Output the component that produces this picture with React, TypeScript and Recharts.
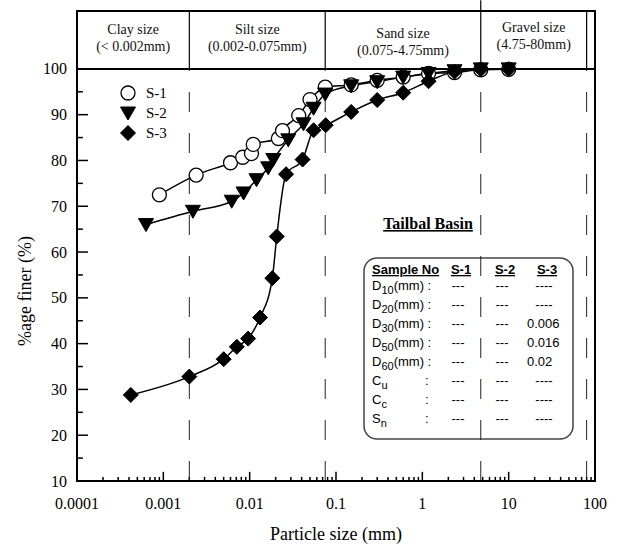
import React from 'react';
import { LineChart, Line, XAxis, YAxis, ReferenceLine, ReferenceArea, Legend } from 'recharts';

// grain size distribution points (size in mm, % finer)
const s1 = [
    { x: 0.0009, y: 72.5 },
    { x: 0.0024, y: 76.8 },
    { x: 0.006, y: 79.5 },
    { x: 0.0083, y: 80.7 },
    { x: 0.0105, y: 81.5 },
    { x: 0.011, y: 83.5 },
    { x: 0.0215, y: 84.8 },
    { x: 0.024, y: 86.5 },
    { x: 0.037, y: 89.8 },
    { x: 0.05, y: 93.3 },
    { x: 0.075, y: 96.0 },
    { x: 0.15, y: 96.5 },
    { x: 0.3, y: 97.5 },
    { x: 0.6, y: 98.2 },
    { x: 1.18, y: 99.0 },
    { x: 2.36, y: 99.2 },
    { x: 4.75, y: 99.8 },
    { x: 10, y: 99.9 },
];

const s2 = [
    { x: 0.00063, y: 66.0 },
    { x: 0.0022, y: 68.9 },
    { x: 0.0062, y: 71.1 },
    { x: 0.0085, y: 72.9 },
    { x: 0.012, y: 75.8 },
    { x: 0.0164, y: 78.4 },
    { x: 0.0188, y: 80.2 },
    { x: 0.028, y: 84.5 },
    { x: 0.042, y: 88.0 },
    { x: 0.055, y: 91.4 },
    { x: 0.075, y: 94.5 },
    { x: 0.15, y: 96.3 },
    { x: 0.3, y: 97.2 },
    { x: 0.6, y: 98.2 },
    { x: 1.18, y: 99.0 },
    { x: 2.36, y: 99.6 },
    { x: 4.75, y: 100 },
    { x: 10, y: 100 },
];

const s3 = [
    { x: 0.00042, y: 28.8 },
    { x: 0.002, y: 32.8 },
    { x: 0.005, y: 36.6 },
    { x: 0.0071, y: 39.3 },
    { x: 0.0096, y: 41.1 },
    { x: 0.0132, y: 45.7 },
    { x: 0.0183, y: 54.3 },
    { x: 0.0206, y: 63.4 },
    { x: 0.0264, y: 77.0 },
    { x: 0.041, y: 80.2 },
    { x: 0.055, y: 86.6 },
    { x: 0.076, y: 87.7 },
    { x: 0.15, y: 90.6 },
    { x: 0.3, y: 93.2 },
    { x: 0.6, y: 94.8 },
    { x: 1.18, y: 97.3 },
    { x: 2.36, y: 99.4 },
    { x: 4.75, y: 99.9 },
    { x: 10, y: 99.9 },
];

const xMajor = [0.0001, 0.001, 0.01, 0.1, 1, 10, 100];
const xLabels = ['0.0001', '0.001', '0.01', '0.1', '1', '10', '100'];
const xMinorSteps = [2, 3, 4, 5, 6, 7, 8, 9];
const xMinor = xMajor.slice(0, -1).flatMap((d) => xMinorSteps.map((m) => d * m));

const yMajor = [10, 20, 30, 40, 50, 60, 70, 80, 90, 100];
const yMinor = [15, 25, 35, 45, 55, 65, 75, 85, 95];

const HEADER_TOP = 112.64;

// soil classes shown in the band above the plot
const zones = [
    { from: 0.0001, to: 0.002, name: 'Clay size', range: '(< 0.002mm)', dy: -2 },
    { from: 0.002, to: 0.075, name: 'Silt size', range: '(0.002-0.075mm)', dy: -2 },
    { from: 0.075, to: 4.75, name: 'Sand size', range: '(0.075-4.75mm)', dy: 2 },
    { from: 4.75, to: 80, name: 'Gravel size', range: '(4.75-80mm)', dy: -4 },
];
const boundaries = [0.002, 0.075, 4.75, 80];

const tableHead = ['S-1', 'S-2', 'S-3'];
const tableRows = [
    { sym: 'D', sub: '10', unit: '(mm) :', s1: '---', s2: '---', s3: '----' },
    { sym: 'D', sub: '20', unit: '(mm) :', s1: '---', s2: '---', s3: '----' },
    { sym: 'D', sub: '30', unit: '(mm) :', s1: '---', s2: '---', s3: '0.006' },
    { sym: 'D', sub: '50', unit: '(mm) :', s1: '---', s2: '---', s3: '0.016' },
    { sym: 'D', sub: '60', unit: '(mm) :', s1: '---', s2: '---', s3: '0.02' },
    { sym: 'C', sub: 'u', unit: '', s1: '---', s2: '---', s3: '----' },
    { sym: 'C', sub: 'c', unit: '', s1: '---', s2: '---', s3: '----' },
    { sym: 'S', sub: 'n', unit: '', s1: '---', s2: '---', s3: '----' },
];

const SERIF = '"Liberation Serif", "Times New Roman", serif';
const SANS = '"Liberation Sans", Arial, sans-serif';

const Marker = ({ shape, cx, cy }: { shape: string; cx: number; cy: number }) => {
    if (shape === 'circle') {
        return <circle cx={cx} cy={cy} r={7} fill="#fff" stroke="#000" strokeWidth={1.3} />;
    }
    if (shape === 'triangle') {
        return (
            <polygon
                points={`${cx - 7.5},${cy - 6} ${cx + 7.5},${cy - 6} ${cx},${cy + 7}`}
                fill="#000"
                stroke="#000"
            />
        );
    }
    return (
        <polygon
            points={`${cx},${cy - 7.5} ${cx + 7.5},${cy} ${cx},${cy + 7.5} ${cx - 7.5},${cy}`}
            fill="#000"
            stroke="#000"
        />
    );
};

const series = [
    { name: 'S-1', data: s1, shape: 'circle' },
    { name: 'S-2', data: s2, shape: 'triangle' },
    { name: 'S-3', data: s3, shape: 'diamond' },
];

const XLabel = (props: any) => {
    const { x, y, payload } = props;
    const idx = xMajor.indexOf(payload.value);
    return (
        <text x={x} y={y + 28} textAnchor="middle" fontFamily={SERIF} fontSize={16} fill="#000">
            {xLabels[idx]}
        </text>
    );
};

const YLabel = (props: any) => {
    const { x, y, payload } = props;
    return (
        <text x={x - 10} y={y + 5.5} textAnchor="end" fontFamily={SERIF} fontSize={16} fill="#000">
            {payload.value}
        </text>
    );
};

const ZoneLabel = (props: any) => {
    const { viewBox, name, range, dy } = props;
    const cx = viewBox.x + viewBox.width / 2;
    const cy = viewBox.y + viewBox.height / 2 + dy;
    return (
        <text textAnchor="middle" fontFamily={SERIF} fontSize={14} fill="#111">
            <tspan x={cx} y={cy - 4}>{name}</tspan>
            <tspan x={cx} y={cy + 13}>{range}</tspan>
        </text>
    );
};

const renderLegend = () => (
    <div style={{ display: 'flex', flexDirection: 'column' }}>
        {series.map((s) => (
            <div key={s.name} style={{ height: 20, display: 'flex', alignItems: 'center' }}>
                <svg width={20} height={20}>
                    <Marker shape={s.shape} cx={10} cy={10} />
                </svg>
                <span style={{ marginLeft: 8, fontFamily: SERIF, fontSize: 15, color: '#000' }}>{s.name}</span>
            </div>
        ))}
    </div>
);

const SummaryTable = () => {
    const cols = [458, 502];
    return (
        <g fontFamily={SANS} fontSize={13} fill="#000">
            <rect x={364} y={258} width={209} height={181} rx={13} fill="#fff" stroke="#444" strokeWidth={1.5} />
            <text x={372} y={274} fontWeight="bold" textDecoration="underline">Sample No</text>
            <text x={461} y={274} fontWeight="bold" textDecoration="underline" textAnchor="middle">{tableHead[0]}</text>
            <text x={505} y={274} fontWeight="bold" textDecoration="underline" textAnchor="middle">{tableHead[1]}</text>
            <text x={547} y={274} fontWeight="bold" textDecoration="underline" textAnchor="middle">{tableHead[2]}</text>
            {tableRows.map((r, i) => {
                const y = 290 + i * 19;
                const dashed = r.s3.startsWith('-');
                return (
                    <g key={i}>
                        <text x={372} y={y}>
                            {r.sym}
                            <tspan fontSize={11} dy={4}>{r.sub}</tspan>
                            <tspan dy={-4}>{r.unit}</tspan>
                        </text>
                        {r.unit === '' && <text x={425} y={y}>:</text>}
                        <text x={cols[0]} y={y} textAnchor="middle">{r.s1}</text>
                        <text x={cols[1]} y={y} textAnchor="middle">{r.s2}</text>
                        <text x={dashed ? 544 : 527} y={y} textAnchor={dashed ? 'middle' : 'start'}>{r.s3}</text>
                    </g>
                );
            })}
        </g>
    );
};

export default function App() {
    return (
        <div style={{ position: 'absolute', left: 0, top: 0, background: '#fff' }}>
            <LineChart width={618} height={556} margin={{ top: 11, right: 23, left: 0, bottom: 0 }}>
                <XAxis
                    type="number"
                    dataKey="x"
                    scale="log"
                    domain={[0.0001, 100]}
                    allowDataOverflow
                    ticks={xMajor}
                    interval={0}
                    tickLine={false}
                    tickSize={0}
                    tickMargin={0}
                    tick={<XLabel />}
                    height={75}
                    axisLine={{ stroke: '#000', strokeWidth: 2 }}
                />
                <YAxis
                    type="number"
                    domain={[10, HEADER_TOP]}
                    allowDataOverflow
                    ticks={yMajor}
                    interval={0}
                    tickLine={false}
                    tickSize={0}
                    tickMargin={0}
                    tick={<YLabel />}
                    width={77}
                    axisLine={{ stroke: '#000', strokeWidth: 2 }}
                />
                <ReferenceArea
                    x1={0.0001}
                    x2={100}
                    y1={10}
                    y2={HEADER_TOP}
                    fill="none"
                    stroke="#000"
                    strokeWidth={2}
                    ifOverflow="visible"
                />
                <ReferenceLine y={100} stroke="#000" strokeWidth={2} />
                {/* inward tick marks */}
                {xMajor.map((v) => (
                    <ReferenceLine key={`xM${v}`} segment={[{ x: v, y: 10 }, { x: v, y: 12 }]} stroke="#000" strokeWidth={1.5} ifOverflow="visible" />
                ))}
                {xMinor.map((v) => (
                    <ReferenceLine key={`xm${v}`} segment={[{ x: v, y: 10 }, { x: v, y: 10.9 }]} stroke="#000" strokeWidth={1.5} ifOverflow="visible" />
                ))}
                {yMajor.map((v) => (
                    <ReferenceLine key={`yM${v}`} segment={[{ x: 0.0001, y: v }, { x: 0.000134, y: v }]} stroke="#000" strokeWidth={1.5} ifOverflow="visible" />
                ))}
                {yMinor.map((v) => (
                    <ReferenceLine key={`ym${v}`} segment={[{ x: 0.0001, y: v }, { x: 0.000117, y: v }]} stroke="#000" strokeWidth={1.5} ifOverflow="visible" />
                ))}
                {zones.map((z) => (
                    <ReferenceArea
                        key={z.name}
                        x1={z.from}
                        x2={z.to}
                        y1={100}
                        y2={HEADER_TOP}
                        fill="none"
                        stroke="none"
                        label={<ZoneLabel name={z.name} range={z.range} dy={z.dy} />}
                    />
                ))}
                {boundaries.map((b) => (
                    <ReferenceLine
                        key={`h${b}`}
                        segment={[
                            { x: b, y: 100 },
                            { x: b, y: b === 4.75 ? 115 : HEADER_TOP },
                        ]}
                        stroke="#000"
                        strokeWidth={1.2}
                        ifOverflow="visible"
                    />
                ))}
                {boundaries.map((b) => (
                    <ReferenceLine
                        key={`d${b}`}
                        segment={[
                            { x: b, y: 10 },
                            { x: b, y: 100 },
                        ]}
                        stroke="#222"
                        strokeWidth={1}
                        strokeDasharray="20 21"
                    />
                ))}
                <Legend
                    layout="vertical"
                    align="center"
                    verticalAlign="middle"
                    content={renderLegend}
                    wrapperStyle={{ left: 118, top: 83, width: 70 }}
                />
                {series.map((s) => (
                    <Line
                        key={s.name}
                        name={s.name}
                        data={s.data}
                        dataKey="y"
                        type="monotone"
                        stroke="#000"
                        strokeWidth={1.5}
                        isAnimationActive={false}
                        dot={(p: any) => <Marker key={`${s.name}-${p.index}`} shape={s.shape} cx={p.cx} cy={p.cy} />}
                        activeDot={false}
                    />
                ))}
                <text x={428} y={229} textAnchor="middle" fontFamily={SERIF} fontSize={16} fontWeight="bold" textDecoration="underline" fill="#000">
                    Tailbal Basin
                </text>
                <SummaryTable />
                <text x={336} y={540} textAnchor="middle" fontFamily={SERIF} fontSize={18} fill="#000">
                    Particle size (mm)
                </text>
                <text x={31} y={291} textAnchor="middle" transform="rotate(-90 31 291)" fontFamily={SERIF} fontSize={18} fill="#000">
                    %age finer (%)
                </text>
            </LineChart>
        </div>
    );
}
